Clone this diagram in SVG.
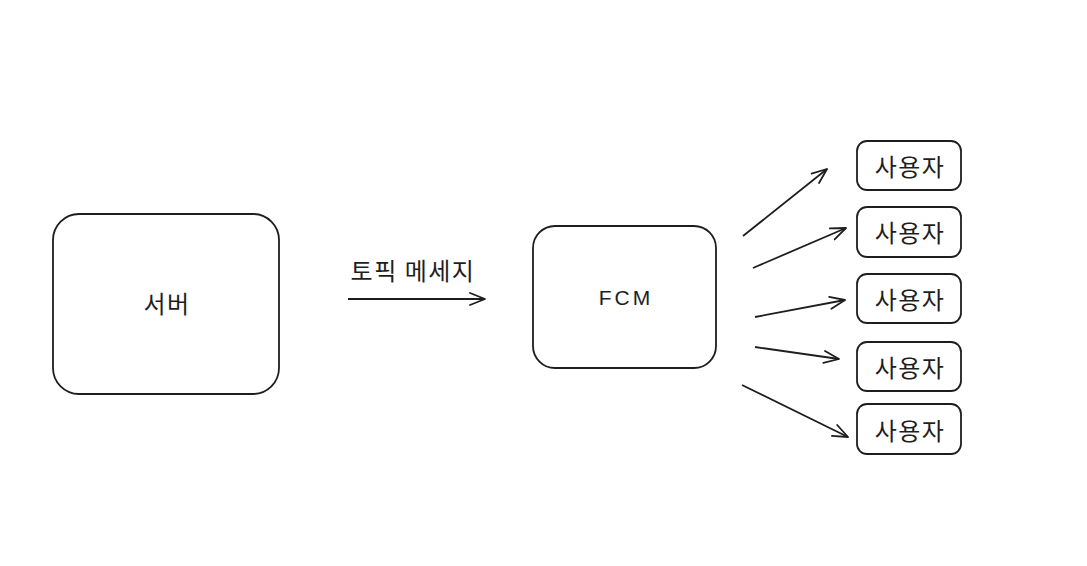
<svg xmlns="http://www.w3.org/2000/svg" width="1087" height="566" viewBox="0 0 1087 566">
<defs>
<style>
.box{fill:#fff;stroke:#1e1e1e;stroke-width:1.8}
.lbl{font-family:"Noto Sans CJK KR","Noto Sans",sans-serif;font-size:24px;letter-spacing:1.5px;fill:#1e1e1e;text-anchor:middle;dominant-baseline:central}
.ln{stroke:#1e1e1e;stroke-width:1.8;fill:none;marker-end:url(#ah)}
</style>
<marker id="ah" viewBox="-16 -8 18 16" refX="0" refY="0" markerWidth="18" markerHeight="16" markerUnits="userSpaceOnUse" orient="auto">
<polyline points="-15,-6 0,0 -15,6" fill="none" stroke="#1e1e1e" stroke-width="1.8" stroke-linecap="round" stroke-linejoin="round"/>
</marker>
</defs>
<rect width="1087" height="566" fill="#fff"/>
<g id="server"><rect class="box" x="53" y="214" width="226" height="180" rx="26"/><text class="lbl" x="167" y="302">서버</text></g>
<g id="fcm"><rect class="box" x="533" y="226" width="183" height="142" rx="22"/><text class="lbl" x="626" y="297" style="font-family:'Liberation Sans',sans-serif;font-size:21px;letter-spacing:3px">FCM</text></g>
<g id="user1"><rect class="box" x="857" y="141" width="104" height="49" rx="10"/><text class="lbl" x="910" y="165">사용자</text></g>
<g id="user2"><rect class="box" x="857" y="207" width="104" height="50" rx="10"/><text class="lbl" x="910" y="231">사용자</text></g>
<g id="user3"><rect class="box" x="857" y="274" width="104" height="49" rx="10"/><text class="lbl" x="910" y="298">사용자</text></g>
<g id="user4"><rect class="box" x="857" y="342" width="104" height="49" rx="10"/><text class="lbl" x="910" y="366">사용자</text></g>
<g id="user5"><rect class="box" x="857" y="404" width="104" height="50" rx="10"/><text class="lbl" x="910" y="429">사용자</text></g>
<g id="connectors">
<line class="ln" x1="348" y1="299" x2="485" y2="299"/>
<text class="lbl" x="413" y="269">토픽 메세지</text>
<line class="ln" x1="743" y1="236" x2="827" y2="169"/>
<line class="ln" x1="753" y1="268" x2="846" y2="228"/>
<line class="ln" x1="755" y1="317" x2="845" y2="300"/>
<line class="ln" x1="755" y1="347" x2="839" y2="359"/>
<line class="ln" x1="742" y1="385" x2="848" y2="437"/>
</g>
</svg>
